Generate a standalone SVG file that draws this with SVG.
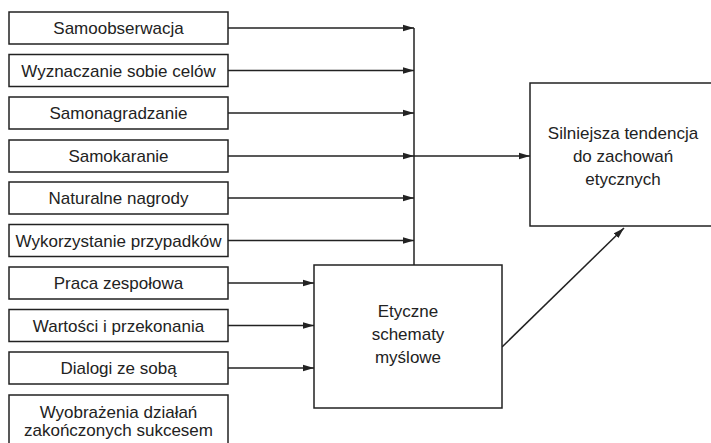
<svg xmlns="http://www.w3.org/2000/svg" width="711" height="443" viewBox="0 0 711 443">
<defs>
<style>
.box{fill:#fff;stroke:#222;stroke-width:1.5}
.t{font-family:"Liberation Sans",Arial,sans-serif;font-size:17px;fill:#222;text-anchor:middle}
.c{fill:none;stroke:#222;stroke-width:1.5}
</style>
<marker id="ah" markerUnits="userSpaceOnUse" markerWidth="12" markerHeight="8" refX="11" refY="4" orient="auto">
<path d="M0,0.8 L11,4 L0,7.2 Z" fill="#222"/>
</marker>
</defs>
<rect width="711" height="443" fill="#fff"/>
<g id="connectors">
<line class="c" x1="414" y1="28" x2="414" y2="265"/>
<line class="c" x1="228" y1="28" x2="414" y2="28" marker-end="url(#ah)"/>
<line class="c" x1="228" y1="70.5" x2="414" y2="70.5" marker-end="url(#ah)"/>
<line class="c" x1="228" y1="113" x2="414" y2="113" marker-end="url(#ah)"/>
<line class="c" x1="228" y1="156" x2="414" y2="156" marker-end="url(#ah)"/>
<line class="c" x1="228" y1="198" x2="414" y2="198" marker-end="url(#ah)"/>
<line class="c" x1="228" y1="240.5" x2="414" y2="240.5" marker-end="url(#ah)"/>
<line class="c" x1="414" y1="156" x2="530" y2="156" marker-end="url(#ah)"/>
<line class="c" x1="228" y1="283" x2="314" y2="283" marker-end="url(#ah)"/>
<line class="c" x1="228" y1="325.5" x2="314" y2="325.5" marker-end="url(#ah)"/>
<line class="c" x1="228" y1="368" x2="314" y2="368" marker-end="url(#ah)"/>
<line class="c" x1="502" y1="347" x2="624" y2="228" marker-end="url(#ah)"/>
</g>
<g id="n1"><rect class="box" x="9" y="12" width="219" height="32"/><text class="t" x="118.5" y="34">Samoobserwacja</text></g>
<g id="n2"><rect class="box" x="9" y="54.5" width="219" height="32"/><text class="t" x="118.5" y="76.5">Wyznaczanie sobie celów</text></g>
<g id="n3"><rect class="box" x="9" y="97" width="219" height="32"/><text class="t" x="118.5" y="119">Samonagradzanie</text></g>
<g id="n4"><rect class="box" x="9" y="140" width="219" height="32"/><text class="t" x="118.5" y="162">Samokaranie</text></g>
<g id="n5"><rect class="box" x="9" y="182" width="219" height="32"/><text class="t" x="118.5" y="204">Naturalne nagrody</text></g>
<g id="n6"><rect class="box" x="9" y="224.5" width="219" height="32"/><text class="t" x="118.5" y="246.5">Wykorzystanie przypadków</text></g>
<g id="n7"><rect class="box" x="9" y="267" width="219" height="32"/><text class="t" x="118.5" y="289">Praca zespołowa</text></g>
<g id="n8"><rect class="box" x="9" y="309.5" width="219" height="32"/><text class="t" x="118.5" y="331.5">Wartości i przekonania</text></g>
<g id="n9"><rect class="box" x="9" y="352" width="219" height="32"/><text class="t" x="118.5" y="374">Dialogi ze sobą</text></g>
<g id="n10"><rect class="box" x="9" y="395" width="219" height="55"/><text class="t" x="118.5" y="417.5">Wyobrażenia działań</text><text class="t" x="118.5" y="436">zakończonych sukcesem</text></g>
<g id="etyczne"><rect class="box" x="314" y="265" width="188" height="143"/><text class="t" x="408" y="317">Etyczne</text><text class="t" x="408" y="340">schematy</text><text class="t" x="408" y="363">myślowe</text></g>
<g id="silniejsza"><rect class="box" x="530" y="83" width="185" height="143"/><text class="t" x="623" y="139">Silniejsza tendencja</text><text class="t" x="623" y="162">do zachowań</text><text class="t" x="623" y="185">etycznych</text></g>
</svg>
